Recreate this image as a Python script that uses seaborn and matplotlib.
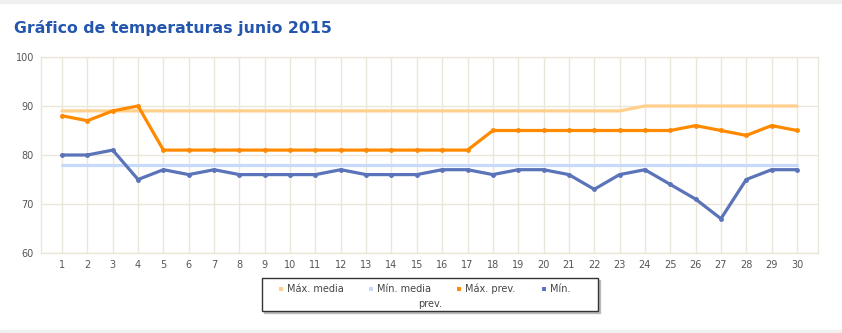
import matplotlib
matplotlib.use("Agg")
import matplotlib.pyplot as plt
from matplotlib.lines import Line2D
from matplotlib.patches import Rectangle
import seaborn as sns
import pandas as pd

days = list(range(1, 31))
max_media = [89]*23 + [90]*7
min_media = [78]*30
max_prev = [88, 87, 89, 90] + [81]*13 + [85]*8 + [86, 85, 84, 86, 85]
min_prev = [80, 80, 81, 75, 77, 76, 77, 76, 76, 76, 76, 77, 76, 76, 76, 77, 77,
            76, 77, 77, 76, 73, 76, 77, 74, 71, 67, 75, 77, 77]
series_names = ["Máx. media", "Mín. media", "Máx. prev.", "Mín. prev."]
colors = ["#ffcf8c", "#c6dbfb", "#ff8a00", "#5a73b9"]
yticks = [60, 70, 80, 90, 100]

sns.set_theme(style="white")
plt.rcParams['font.family'] = ['DejaVu Sans']

df = pd.DataFrame({
    "día": days * 4,
    "temp": max_media + min_media + max_prev + min_prev,
    "serie": sum([[n]*30 for n in series_names], []),
})

fig = plt.figure(figsize=(8.42, 3.33), dpi=100)
# light gray bands top and bottom
fig.patches.append(Rectangle((0, 1-3/333), 1, 3/333, transform=fig.transFigure,
                             color="#f0f0f0", zorder=0))
fig.patches.append(Rectangle((0, 0), 1, 3/333, transform=fig.transFigure,
                             color="#f0f0f0", zorder=0))

ax = fig.add_axes([41/842, 1-253/333, (818-41)/842, (253-57)/333])
pal = dict(zip(series_names, colors))
for name in series_names[:2]:
    sns.lineplot(data=df[df.serie == name], x="día", y="temp", color=pal[name],
                 linewidth=2.3, ax=ax, legend=False, zorder=2)
for name in series_names[2:]:
    sns.lineplot(data=df[df.serie == name], x="día", y="temp", color=pal[name],
                 linewidth=2.3, marker="o", markersize=3.5, markeredgewidth=0,
                 ax=ax, legend=False, zorder=3)

grid_c = "#ebe6da"
ax.set_ylim(60, 100)
ax.set_yticks(yticks)
ax.set_xlim(1-0.83, 30+0.83)
ax.set_xticks(days)
ax.set_xticklabels([str(d) for d in days])
ax.grid(True, color=grid_c, linewidth=1)
ax.set_axisbelow(True)
for s in ax.spines.values():
    s.set_color(grid_c)
    s.set_linewidth(1)
ax.tick_params(length=0, labelsize=7, colors="#555555", pad=5)
ax.set_xlabel("")
ax.set_ylabel("")

fig.text(14/842, 1-28/333, "Gráfico de temperaturas junio 2015", fontsize=11.3,
         fontweight="bold", color="#2456ae", va="center", ha="left")

# legend box
bx0, bx1, by0, by1 = 262/842, 598/842, 1-311/333, 1-278/333
fig.patches.append(Rectangle((bx0+2/842, by0-2/333), bx1-bx0, by1-by0,
                             transform=fig.transFigure, color="#bbbbbb", zorder=1))
fig.patches.append(Rectangle((bx0, by0), bx1-bx0, by1-by0, transform=fig.transFigure,
                             facecolor="white", edgecolor="#333333", linewidth=1, zorder=2))
labels = ["Máx. media", "Mín. media", "Máx. prev.", "Mín."]
handles = [Line2D([], [], marker="s", linestyle="none", markersize=3.5,
                  markerfacecolor=c, markeredgewidth=0) for c in colors]
leg = fig.legend(handles, labels, loc="center", ncol=4, frameon=False,
                 bbox_to_anchor=(424/842, 1-289/333), fontsize=7, handlelength=0.6,
                 handletextpad=0.3, columnspacing=2.6)
for t in leg.get_texts():
    t.set_color("#444444")
fig.text(430/842, 1-304/333, "prev.", fontsize=7, color="#444444",
         ha="center", va="center")

fig.savefig("out.png", dpi=100)
